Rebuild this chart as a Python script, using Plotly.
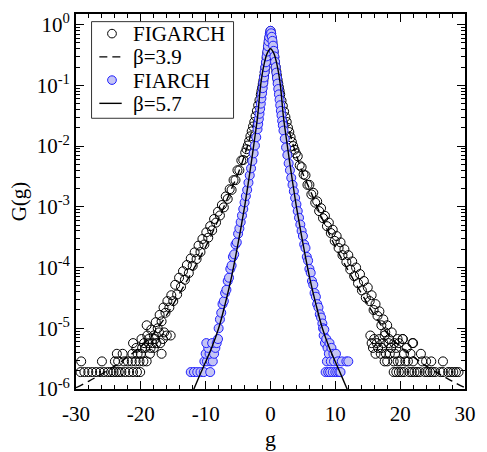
import plotly.graph_objects as go

# FIGARCH histogram G(g)
figarch_g = [
    -29.3, -28.7, -28.1, -27.5, -26.9, -26.3, -25.7, -25.1, -24.6, -24.2, -23.8, -23.4, -23.0, -22.4, -21.8, -21.2, -20.6, -20.1,
    -29.2, -26.0, -24.0, -23.5, -22.6, -22.0, -21.4, -20.8, -20.2, -19.6, -19.1,
    -23.7, -22.8, -21.3, -20.5, -20.0, -18.6, -16.8,
    -20.7, -19.8, -19.3, -18.5, -18.0,
    -21.2, -19.5, -18.8, -18.2, -17.6, -17.0,
    -19.9, -17.8, -16.6,
    -19.0, -16.0, -15.4,
    -17.2, -16.4,
    -19.1, -18.8, -18.4, -18.0, -17.7, -17.4, -17.1, -16.8, -16.5, -16.2, -15.9, -15.6, -15.3,
    -15.0, -14.7, -14.4, -14.1, -13.8, -13.5, -13.2, -12.9, -12.6, -12.3, -12.0, -11.7, -11.4, -11.1, -10.8, -10.5,
    -10.2, -9.9, -9.6, -9.3, -9.0, -8.7, -8.4, -8.1, -7.8, -7.5, -7.2, -6.9, -6.6, -6.3, -6.0, -5.7, -5.4, -5.1,
    -4.8, -4.5, -4.2,
    -3.9, -3.7, -3.5, -3.3, -3.1, -2.9, -2.7, -2.5, -2.3, -2.1, -1.9, -1.7,
    -1.5, -1.4, -1.3, -1.2, -1.1, -1.0, -0.9, -0.8, -0.7, -0.6, -0.5, -0.4, -0.3, -0.2, -0.1,
    0.0,
    0.1, 0.2, 0.3, 0.4, 0.5, 0.6, 0.7, 0.8, 0.9, 1.0, 1.1, 1.2, 1.3, 1.4, 1.5,
    1.7, 1.9, 2.1, 2.3, 2.5, 2.7, 2.9, 3.1, 3.3, 3.5, 3.7, 3.9,
    4.2, 4.5, 4.8, 5.1, 5.4, 5.7, 6.0, 6.3, 6.6, 6.9, 7.2, 7.5, 7.8, 8.1, 8.4, 8.7, 9.0, 9.3, 9.6, 9.9,
    10.2, 10.5, 10.8, 11.1, 11.4, 11.7, 12.0, 12.3, 12.6, 12.9, 13.2, 13.5, 13.8, 14.1, 14.4, 14.7, 15.0,
    15.3, 15.6, 15.9, 16.2, 16.5, 16.8, 17.1, 17.4, 17.7, 18.0, 18.3, 18.7, 19.1, 19.6, 20.4, 21.0, 21.9,
    19.0, 19.4, 19.8, 20.2, 20.6, 21.4, 21.8, 22.2, 22.6, 23.0, 23.8, 24.2, 24.6, 25.0, 25.4, 26.2, 26.6, 27.4, 27.8, 28.2, 28.6, 29.0,
    17.6, 18.0, 19.0, 19.6, 20.0, 20.8, 21.2, 22.0, 23.4, 24.0, 24.8, 26.6,
    16.2, 17.0, 17.8, 18.4, 19.2, 20.6, 21.6, 23.2,
    15.8, 16.6, 17.2, 18.6, 19.4,
    15.6, 16.4, 17.4, 18.2, 19.8, 22.0,
    16.0, 16.8, 20.4,
    15.4, 17.6,
]
figarch_G = [
    1.9e-6, 1.9e-6, 1.9e-6, 1.9e-6, 1.9e-6, 1.9e-6, 1.9e-6, 1.9e-6, 1.9e-6, 1.9e-6, 1.9e-6, 1.9e-6, 1.9e-6, 1.9e-6, 1.9e-6, 1.9e-6, 1.9e-6, 1.9e-6,
    2.85e-6, 2.85e-6, 2.85e-6, 2.85e-6, 2.85e-6, 2.85e-6, 2.85e-6, 2.85e-6, 2.85e-6, 2.85e-6, 2.85e-6,
    3.8e-6, 3.8e-6, 3.8e-6, 3.8e-6, 3.8e-6, 3.8e-6, 3.8e-6,
    4.75e-6, 4.75e-6, 4.75e-6, 4.75e-6, 4.75e-6,
    5.7e-6, 5.7e-6, 5.7e-6, 5.7e-6, 5.7e-6, 5.7e-6,
    6.65e-6, 6.65e-6, 6.65e-6,
    7.6e-6, 7.6e-6, 7.6e-6,
    8.55e-6, 8.55e-6,
    1.12e-5, 6.65e-6, 9.5e-6, 7.6e-6, 1.26e-5, 1.0e-5, 1.66e-5, 1.3e-5, 2.2e-5, 1.8e-5, 2.8e-5, 2.2e-5, 3.5e-5,
    2.8e-5, 5.2e-5, 3.6e-5, 6.8e-5, 4.8e-5, 8.7e-5, 6.3e-5, 1.1e-4, 8.1e-5, 1.41e-4, 1.07e-4, 1.78e-4, 1.38e-4, 2.3e-4, 1.8e-4, 2.95e-4,
    2.4e-4, 3.8e-4, 3.1e-4, 4.8e-4, 4.1e-4, 6.3e-4, 5.5e-4, 8.3e-4, 7.2e-4, 1.07e-3, 9.8e-4, 1.48e-3, 1.35e-3, 1.95e-3, 1.9e-3, 2.75e-3, 2.75e-3, 4.0e-3,
    4.0e-3, 5.8e-3, 5.9e-3,
    7.8e-3, 8.9e-3, 1.02e-2, 1.2e-2, 1.45e-2, 1.75e-2, 2.1e-2, 2.5e-2, 3.1e-2, 3.8e-2, 4.7e-2, 5.7e-2,
    0.070, 0.080, 0.091, 0.105, 0.120, 0.140, 0.165, 0.195, 0.235, 0.28, 0.34, 0.41, 0.49, 0.59, 0.70,
    0.79,
    0.71, 0.60, 0.50, 0.42, 0.35, 0.29, 0.24, 0.20, 0.17, 0.145, 0.123, 0.107, 0.093, 0.081, 0.071,
    5.6e-2, 4.6e-2, 3.7e-2, 3.0e-2, 2.5e-2, 2.0e-2, 1.7e-2, 1.4e-2, 1.17e-2, 1.0e-2, 8.7e-3, 7.6e-3,
    6.8e-3, 4.8e-3, 4.5e-3, 3.4e-3, 3.3e-3, 2.3e-3, 2.3e-3, 1.6e-3, 1.7e-3, 1.17e-3, 1.23e-3, 8.5e-4, 9.5e-4, 6.5e-4, 7.1e-4, 4.8e-4, 5.5e-4, 3.7e-4, 4.2e-4, 2.75e-4,
    3.3e-4, 2.1e-4, 2.6e-4, 1.6e-4, 2.0e-4, 1.23e-4, 1.6e-4, 9.3e-5, 1.26e-4, 7.2e-5, 1.0e-4, 5.5e-5, 7.8e-5, 4.2e-5, 6.0e-5, 3.2e-5, 4.7e-5,
    2.8e-5, 3.5e-5, 2.0e-5, 2.5e-5, 1.6e-5, 1.9e-5, 1.12e-5, 1.4e-5, 8.55e-6, 1.12e-5, 6.65e-6, 8.55e-6, 5.7e-6, 6.65e-6, 6.65e-6, 4.75e-6, 5.7e-6,
    1.9e-6, 1.9e-6, 1.9e-6, 1.9e-6, 1.9e-6, 1.9e-6, 1.9e-6, 1.9e-6, 1.9e-6, 1.9e-6, 1.9e-6, 1.9e-6, 1.9e-6, 1.9e-6, 1.9e-6, 1.9e-6, 1.9e-6, 1.9e-6, 1.9e-6, 1.9e-6, 1.9e-6, 1.9e-6,
    2.85e-6, 2.85e-6, 2.85e-6, 2.85e-6, 2.85e-6, 2.85e-6, 2.85e-6, 2.85e-6, 2.85e-6, 2.85e-6, 2.85e-6, 2.85e-6,
    3.8e-6, 3.8e-6, 3.8e-6, 3.8e-6, 3.8e-6, 3.8e-6, 3.8e-6, 3.8e-6,
    4.75e-6, 4.75e-6, 4.75e-6, 4.75e-6, 4.75e-6,
    5.7e-6, 5.7e-6, 5.7e-6, 5.7e-6, 5.7e-6, 5.7e-6,
    6.65e-6, 6.65e-6, 6.65e-6,
    7.6e-6, 7.6e-6,
]

# FIARCH histogram G(g)
fiarch_g = [
    -12.3, -11.8, -11.3, -10.8, -10.3, -9.3,
    -10.2, -9.8, -9.2, -8.9,
    -10.0, -9.4, -8.7,
    -9.6, -8.5,
    -9.9, -9.0, -8.3,
    -8.1,
    -8.0, -7.8, -7.6, -7.4, -7.2, -7.0, -6.8, -6.6, -6.4, -6.2, -6.0, -5.8, -5.6, -5.4, -5.2, -5.0,
    -4.8, -4.6, -4.4, -4.2, -4.0, -3.8, -3.6, -3.4, -3.2, -3.0, -2.8, -2.6, -2.4, -2.2,
    -2.0, -1.9, -1.8, -1.7, -1.6, -1.5, -1.4, -1.3, -1.2, -1.1, -1.0, -0.9, -0.8, -0.7, -0.6, -0.5, -0.4, -0.3, -0.2, -0.1,
    0.0,
    0.1, 0.2, 0.3, 0.4, 0.5, 0.6, 0.7, 0.8, 0.9, 1.0, 1.1, 1.2, 1.3, 1.4, 1.5, 1.6, 1.7, 1.8, 1.9, 2.0,
    2.2, 2.4, 2.6, 2.8, 3.0, 3.2, 3.4, 3.6, 3.8, 4.0, 4.2, 4.4, 4.6, 4.8,
    5.0, 5.2, 5.4, 5.6, 5.8, 6.0, 6.2, 6.4, 6.6, 6.8, 7.0, 7.2, 7.4, 7.6, 7.8, 8.0,
    8.1, 8.2, 8.3, 8.4, 8.5, 8.6, 8.7, 8.8, 8.9, 9.0, 9.1, 9.2, 9.3, 9.4, 9.6, 9.7, 9.8, 10.0, 10.1, 10.3, 10.4, 10.6, 10.8, 11.0, 11.7, 12.0,
]
fiarch_G = [
    1.9e-6, 1.9e-6, 1.9e-6, 1.9e-6, 1.9e-6, 1.9e-6,
    2.85e-6, 2.85e-6, 2.85e-6, 2.85e-6,
    3.8e-6, 3.8e-6, 3.8e-6,
    4.75e-6, 4.75e-6,
    5.7e-6, 5.7e-6, 5.7e-6,
    6.65e-6,
    1.0e-5, 1.4e-5, 1.8e-5, 2.5e-5, 2.8e-5, 3.8e-5, 4.3e-5, 6.0e-5, 6.8e-5, 9.5e-5, 1.08e-4, 1.5e-4, 1.65e-4, 2.4e-4, 2.6e-4, 3.6e-4,
    4.4e-4, 5.6e-4, 7.2e-4, 9.2e-4, 1.18e-3, 1.5e-3, 1.9e-3, 2.5e-3, 3.3e-3, 4.3e-3, 5.7e-3, 7.6e-3, 1.02e-2, 1.4e-2,
    0.019, 0.023, 0.028, 0.034, 0.041, 0.050, 0.061, 0.074, 0.090, 0.110, 0.135, 0.165, 0.20, 0.24, 0.30, 0.36, 0.44, 0.53, 0.62, 0.72,
    0.79,
    0.72, 0.63, 0.54, 0.45, 0.37, 0.30, 0.245, 0.20, 0.162, 0.132, 0.107, 0.087, 0.071, 0.058, 0.047, 0.038, 0.032, 0.026, 0.022, 0.018,
    1.32e-2, 9.5e-3, 7.1e-3, 5.2e-3, 4.0e-3, 3.0e-3, 2.3e-3, 1.8e-3, 1.4e-3, 1.1e-3, 8.5e-4, 6.6e-4, 5.1e-4, 4.0e-4,
    3.3e-4, 2.4e-4, 2.1e-4, 1.5e-4, 1.3e-4, 9.5e-5, 8.2e-5, 6.0e-5, 5.2e-5, 3.8e-5, 3.3e-5, 2.5e-5, 2.2e-5, 1.7e-5, 1.5e-5, 1.2e-5,
    1.0e-5, 7.6e-6, 9.5e-6, 5.7e-6, 1.9e-6, 6.65e-6, 2.85e-6, 4.75e-6, 1.9e-6, 3.8e-6, 5.7e-6, 1.9e-6, 2.85e-6, 4.75e-6, 1.9e-6, 3.8e-6, 2.85e-6, 1.9e-6, 3.8e-6, 1.9e-6, 2.85e-6, 1.9e-6, 1.9e-6, 2.85e-6, 2.85e-6, 2.85e-6,
]

# Fitted curve, beta = 3.9
fit39_g = [-30, -28, -26, -24, -22, -20, -18, -16, -14, -12, -10, -8, -6, -5, -4, -3, -2, -1.5, -1, -0.5, 0,
           0.5, 1, 1.5, 2, 3, 4, 5, 6, 8, 10, 12, 14, 16, 18, 20, 22, 24, 26, 28, 30]
fit39_G = [1.05e-6, 1.35e-6, 1.78e-6, 2.4e-6, 3.4e-6, 5.0e-6, 8.3e-6, 1.66e-5, 3.8e-5, 8.9e-5, 2.2e-4, 6.3e-4, 2.0e-3, 3.5e-3, 7.1e-3, 1.6e-2, 4.5e-2, 8.0e-2, 0.16, 0.355, 0.71,
           0.355, 0.16, 8.0e-2, 4.5e-2, 1.6e-2, 7.1e-3, 3.5e-3, 2.0e-3, 6.3e-4, 2.2e-4, 8.9e-5, 3.8e-5, 1.66e-5, 8.3e-6, 5.0e-6, 3.4e-6, 2.4e-6, 1.78e-6, 1.35e-6, 1.05e-6]

# Fitted curve, beta = 5.7
fit57_g = [-12, -11, -10, -9, -8, -7, -6, -5, -4, -3.5, -3, -2.5, -2, -1.5, -1, -0.5, 0,
           0.5, 1, 1.5, 2, 2.5, 3, 3.5, 4, 5, 6, 7, 8, 9, 10, 11, 12]
fit57_G = [9.0e-7, 1.6e-6, 2.8e-6, 5.0e-6, 1.0e-5, 2.5e-5, 7.1e-5, 2.5e-4, 1.0e-3, 2.2e-3, 5.0e-3, 1.2e-2, 3.0e-2, 0.105, 0.22, 0.34, 0.40,
           0.34, 0.22, 0.105, 3.0e-2, 1.2e-2, 5.0e-3, 2.2e-3, 1.0e-3, 2.5e-4, 7.1e-5, 2.5e-5, 1.0e-5, 5.0e-6, 2.8e-6, 1.6e-6, 9.0e-7]

x_ticks = [-30, -20, -10, 0, 10, 20, 30]
x_labels = ["-30", "-20", "-10", "0", "10", "20", "30"]
y_ticks = [1e-6, 1e-5, 1e-4, 1e-3, 1e-2, 1e-1, 1e0]
y_labels = ["10<sup>-6</sup>", "10<sup>-5</sup>", "10<sup>-4</sup>", "10<sup>-3</sup>",
            "10<sup>-2</sup>", "10<sup>-1</sup>", "10<sup>0</sup>"]

legend_names = ["FIGARCH", "\u03b2=3.9", "FIARCH", "\u03b2=5.7"]

serif = "Liberation Serif"
ink = "black"
blue_edge = "#1f1fff"
blue_fill = "#c4c4f4"

fig = go.Figure()
fig.add_trace(go.Scatter(
    x=figarch_g, y=figarch_G, mode="markers", name=legend_names[0], showlegend=False,
    marker=dict(symbol="circle-open", size=9, color=ink, line=dict(width=1, color=ink)),
))
fig.add_trace(go.Scatter(
    x=fit39_g, y=fit39_G, mode="lines", name=legend_names[1], showlegend=False, line_shape="spline",
    line=dict(color=ink, width=1.4, dash="8px,5px"),
))
fig.add_trace(go.Scatter(
    x=fiarch_g, y=fiarch_G, mode="markers", name=legend_names[2], showlegend=False,
    marker=dict(symbol="circle", size=9, color=blue_fill, line=dict(width=1, color=blue_edge)),
))
fig.add_trace(go.Scatter(
    x=fit57_g, y=fit57_G, mode="lines", name=legend_names[3], showlegend=False, line_shape="spline",
    line=dict(color=ink, width=1.4),
))

axis_common = dict(
    showline=True, linecolor=ink, linewidth=1.8, mirror="allticks",
    ticks="inside", ticklen=8, tickwidth=1.2, tickcolor=ink,
    showgrid=False, zeroline=False,
    tickfont=dict(family=serif, size=21, color=ink),
)

fig.update_xaxes(
    range=[-30, 30], tickvals=x_ticks, ticktext=x_labels, ticklabelstandoff=5,
    title=dict(text="g", font=dict(family=serif, size=22, color=ink), standoff=0),
    minor=dict(ticks="inside", ticklen=4, tickwidth=1.2, tickcolor=ink, dtick=2, showgrid=False),
    **axis_common,
)
fig.update_yaxes(
    type="log", range=[-6, 0.175], tickvals=y_ticks, ticktext=y_labels,
    title=dict(text="G(g)", font=dict(family=serif, size=21, color=ink), standoff=4),
    minor=dict(ticks="inside", ticklen=4, tickwidth=1.2, tickcolor=ink,
               tickvals=[m * 10.0 ** e for e in range(-6, 0) for m in range(2, 10)], showgrid=False),
    **axis_common,
)

# Legend box drawn in paper coordinates (plot area is 400 x 392 px)
PW, PH = 400.0, 392.0
def px(dx):
    return dx / PW
def py(dy):
    return dy / PH

box_x0, box_x1 = px(16), px(162)
box_y0, box_y1 = 1 - py(109), 1 - py(8)
row_y = [1 - py(20.5), 1 - py(44.8), 1 - py(69.1), 1 - py(93.4)]
sym_x = px(37)
line_x0, line_x1 = px(24), px(47)
text_x = px(57)
r_x, r_y = px(4.5), py(4.5)

shapes = [
    dict(type="rect", xref="paper", yref="paper", x0=box_x0, x1=box_x1, y0=box_y0, y1=box_y1,
         line=dict(color="#333333", width=1), fillcolor="white", layer="above"),
    dict(type="circle", xref="paper", yref="paper",
         x0=sym_x - r_x, x1=sym_x + r_x, y0=row_y[0] - r_y, y1=row_y[0] + r_y,
         line=dict(color=ink, width=1), fillcolor="rgba(0,0,0,0)", layer="above"),
    dict(type="line", xref="paper", yref="paper", x0=line_x0, x1=line_x1, y0=row_y[1], y1=row_y[1],
         line=dict(color=ink, width=1.4, dash="8px,5px"), layer="above"),
    dict(type="circle", xref="paper", yref="paper",
         x0=sym_x - r_x, x1=sym_x + r_x, y0=row_y[2] - r_y, y1=row_y[2] + r_y,
         line=dict(color=blue_edge, width=1), fillcolor=blue_fill, layer="above"),
    dict(type="line", xref="paper", yref="paper", x0=line_x0, x1=line_x1, y0=row_y[3], y1=row_y[3],
         line=dict(color=ink, width=1.4), layer="above"),
]
annotations = [
    dict(xref="paper", yref="paper", x=text_x, y=row_y[i], xanchor="left", yanchor="middle",
         height=23, text=legend_names[i], showarrow=False, font=dict(family=serif, size=21, color=ink))
    for i in range(4)
]

fig.update_layout(
    width=487, height=452,
    margin=dict(l=76, r=11, t=12, b=48),
    plot_bgcolor="white", paper_bgcolor="white",
    font=dict(family=serif, color=ink),
    shapes=shapes, annotations=annotations,
    showlegend=False,
)

fig.write_html("out.html")
